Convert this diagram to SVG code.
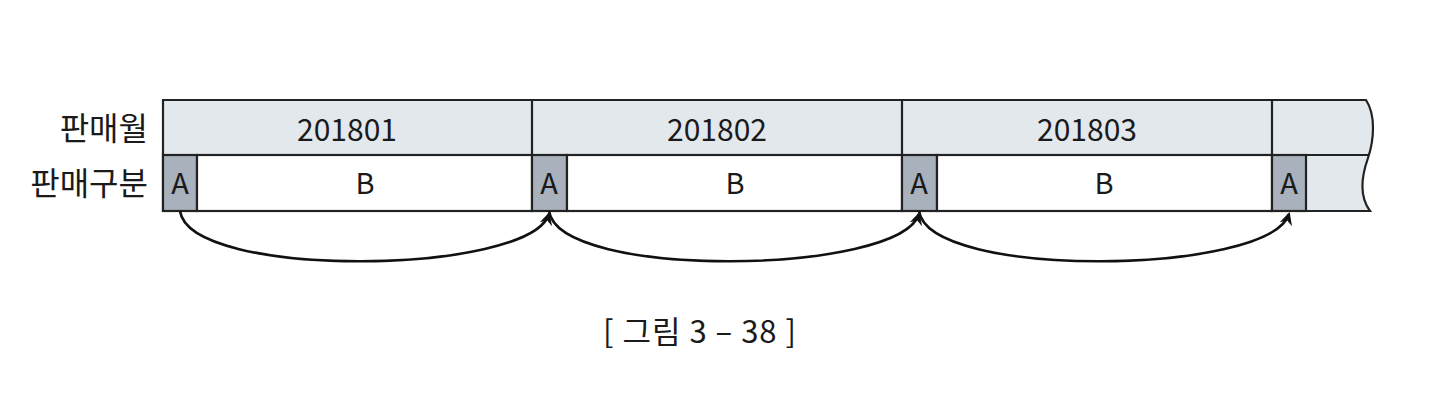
<svg xmlns="http://www.w3.org/2000/svg" width="1440" height="414" viewBox="0 0 1440 414">
<style>
.t{font-family:"Noto Sans CJK KR","Noto Sans",sans-serif;fill:#1a1a1a;}
.lbl{font-size:32px;}
.num{font-size:30px;text-anchor:middle;}
.cell{font-size:29px;text-anchor:middle;}
.ln{stroke:#222;stroke-width:2.2;}
.a{fill:#a8b1bc;stroke:#222;stroke-width:2.2;}
.b{fill:#ffffff;stroke:#222;stroke-width:2.2;}
.arc{fill:none;stroke:#111;stroke-width:2.6;}
</style>
<defs>
<marker id="ah" viewBox="0 0 12 12" refX="10" refY="6" markerWidth="13" markerHeight="13" markerUnits="userSpaceOnUse" orient="auto">
<path d="M0,0 L12,6 L0,12 L4,6 Z" fill="#111"/>
</marker>
</defs>
<rect width="1440" height="414" fill="#ffffff"/>
<g id="labels">
<text class="t lbl" x="148" y="140" text-anchor="end">판매월</text>
<text class="t lbl" x="148" y="195" text-anchor="end">판매구분</text>
</g>
<g id="band">
<path d="M163,100 H1366 C1376,115 1374,140 1368,158 C1362,175 1358,195 1370,211 H163 Z" fill="#e3e8ed" stroke="#222" stroke-width="2.2"/>
<line class="ln" x1="163" y1="155" x2="1368" y2="155"/>
</g>
<g id="month1">
<line class="ln" x1="532" y1="100" x2="532" y2="155"/>
<text class="t num" x="347" y="141">201801</text>
</g>
<g id="month2">
<line class="ln" x1="902" y1="100" x2="902" y2="155"/>
<text class="t num" x="717" y="141">201802</text>
</g>
<g id="month3">
<line class="ln" x1="1272" y1="100" x2="1272" y2="155"/>
<text class="t num" x="1087" y="141">201803</text>
</g>
<g id="cells1">
<rect class="a" x="163" y="155" width="34" height="56"/>
<text class="t cell" x="180" y="194">A</text>
<rect class="b" x="197" y="155" width="335" height="56"/>
<text class="t cell" x="365" y="194">B</text>
</g>
<g id="cells2">
<rect class="a" x="532" y="155" width="35" height="56"/>
<text class="t cell" x="549" y="194">A</text>
<rect class="b" x="567" y="155" width="335" height="56"/>
<text class="t cell" x="735" y="194">B</text>
</g>
<g id="cells3">
<rect class="a" x="902" y="155" width="35" height="56"/>
<text class="t cell" x="919" y="194">A</text>
<rect class="b" x="937" y="155" width="335" height="56"/>
<text class="t cell" x="1104" y="194">B</text>
</g>
<g id="cells4">
<rect class="a" x="1272" y="155" width="34" height="56"/>
<text class="t cell" x="1289" y="194">A</text>
</g>
<g id="connectors">
<path class="arc" d="M180,211 C190,280 530,275 549,214" marker-end="url(#ah)"/>
<path class="arc" d="M549,211 C559,280 900,275 919,214" marker-end="url(#ah)"/>
<path class="arc" d="M919,211 C929,280 1270,275 1289,214" marker-end="url(#ah)"/>
</g>
<g id="caption">
<text class="t" x="700" y="343" font-size="31" text-anchor="middle" letter-spacing="1">[ 그림 3 – 38 ]</text>
</g>
</svg>
